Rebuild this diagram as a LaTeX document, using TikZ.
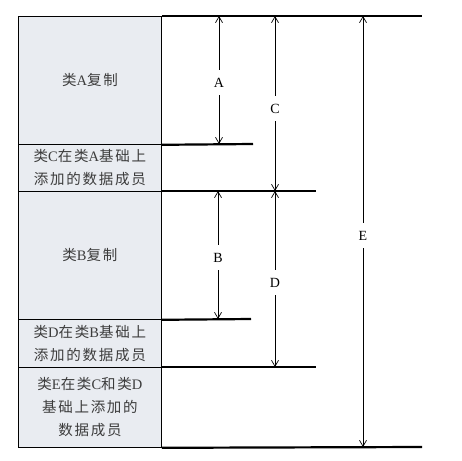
\documentclass[tikz,border=0pt]{standalone}
\usepackage{fontspec}
\setmainfont{Liberation Serif}
\newfontfamily\zhfont[LetterSpace=12]{Noto Sans CJK SC}
\newcommand{\zh}[1]{{\zhfont #1}}
\usetikzlibrary{arrows.meta}
\definecolor{cellfill}{RGB}{233,236,241}
\definecolor{celltext}{RGB}{60,60,60}

\begin{document}
\begin{tikzpicture}[x=1pt,y=-1pt,
    cell/.style={draw=black, line width=0.8pt, fill=cellfill, text=celltext,
        minimum width=143pt, anchor=north west, align=center, inner sep=0pt,
        font=\fontsize{14.5}{23}\selectfont},
    level/.style={line width=2.2pt},
    span/.style={line width=0.7pt, {Straight Barb[length=6pt,width=7pt]}-{Straight Barb[length=6pt,width=7pt]}},
    tag/.style={fill=white, inner xsep=1pt, inner ysep=8pt, font=\fontsize{14}{16}\selectfont}]
    \useasboundingbox (0,0) rectangle (462,460);

    % memory layout of the classes
    \node[cell, minimum height=128pt] (copyA) at (18,16) {\zh{类}A\zh{复制}};
    \node[cell, minimum height=47pt] (addC) at (18,144) {\zh{类}C\zh{在类}A\zh{基础上}\\\zh{添加的数据成员}};
    \node[cell, minimum height=128pt] (copyB) at (18,191) {\zh{类}B\zh{复制}};
    \node[cell, minimum height=48pt] (addD) at (18,319) {\zh{类}D\zh{在类}B\zh{基础上}\\\zh{添加的数据成员}};
    \node[cell, minimum height=80pt] (addE) at (18,367) {\zh{类}E\zh{在类}C\zh{和类}D\\\zh{基础上添加的}\\\zh{数据成员}};

    % boundary levels
    \coordinate (topEnd) at (422,16);
    \coordinate (aEnd) at (253,144);
    \coordinate (cEnd) at (316,191);
    \coordinate (bEnd) at (251,319);
    \coordinate (dEnd) at (316,367);
    \coordinate (botEnd) at (422,447);
    \draw[level] (copyA.north east) -- (topEnd);
    \draw[level] (copyA.south east) -- (aEnd);
    \draw[level] (copyB.north east) -- (cEnd);
    \draw[level] (copyB.south east) -- (bEnd);
    \draw[level] (addE.north east) -- (dEnd);
    \draw[level] (addE.south east) -- (botEnd);

    % sizes
    \draw[span] (219,16) -- node[tag, pos=0.52] {A} (219,144);
    \draw[span] (275,16) -- node[tag, pos=0.53] {C} (275,191);
    \draw[span] (218,191) -- node[tag, pos=0.52] {B} (218,319);
    \draw[span] (275,191) -- node[tag, pos=0.52] {D} (275,367);
    \draw[span] (363,16) -- node[tag, pos=0.51] {E} (363,447);
\end{tikzpicture}
\end{document}
